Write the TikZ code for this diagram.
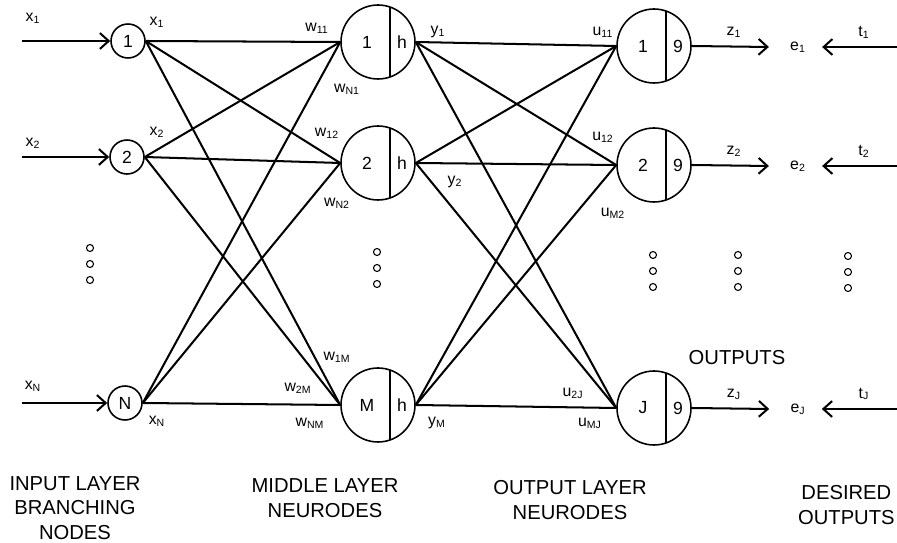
\documentclass[tikz,border=0pt]{standalone}
\usepackage{fontspec}
\setmainfont{Liberation Sans}
\usepackage{tikz}
\usetikzlibrary{arrows.meta,calc}
\tikzset{
  branch/.style={circle,draw,line width=0.9pt,minimum size=0.68cm,inner sep=0pt,font=\normalsize},
  neurode/.style={circle,draw,line width=0.9pt,minimum size=1.48cm,inner sep=0pt},
  link/.style={line width=1.15pt},
  sig/.style={line width=1.15pt,-{Straight Barb[length=5pt,width=9pt]}},
  lbl/.style={font=\small,inner sep=0pt},
  caption/.style={font=\fontsize{11.5}{14}\selectfont,align=center,inner sep=0pt},
  dotmark/.style={circle,draw,line width=0.6pt,minimum size=4pt,inner sep=0pt}
}
\newcommand{\wsub}[2]{#1\textsubscript{#2}}

\begin{document}
\begin{tikzpicture}[x=0.02cm,y=-0.02cm]
\useasboundingbox (0,0) rectangle (897,543);
% input layer branching nodes
\node[branch] (in1) at (128,41) {1};
\node[branch] (in2) at (127,157) {2};
\node[branch] (inN) at (125,403) {N};
\foreach \i/\y in {1/41,2/157,N/403}{
  \coordinate (src\i) at (22,\y);
  \draw[sig] (src\i) -- (in\i.west);
}
\node[lbl] (xin1) at (33,18) {\wsub{x}{1}};
\node[lbl] (xin2) at (33,143) {\wsub{x}{2}};
\node[lbl] (xinN) at (33,386) {\wsub{x}{N}};
\node[lbl] (xout1) at (157,22) {\wsub{x}{1}};
\node[lbl] (xout2) at (157,132) {\wsub{x}{2}};
\node[lbl] (xoutN) at (157,421) {\wsub{x}{N}};
% middle layer neurodes
\foreach \j/\y in {1/42,2/163,M/405}{
  \node[neurode] (mid\j) at (378,\y) {};
  \draw[line width=0.9pt] ($(mid\j.center)+(12,-35)$) -- ($(mid\j.center)+(12,35)$);
  \node (midid\j) at (367,\y) {\j};
  \node (midfn\j) at (402,\y) {h};
}
% output layer neurodes
\foreach \k/\y in {1/46,2/165,J/408}{
  \node[neurode] (out\k) at (654,\y) {};
  \draw[line width=0.9pt] ($(out\k.center)+(12,-35)$) -- ($(out\k.center)+(12,35)$);
  \node (outid\k) at (643,\y) {\k};
  \node (outfn\k) at (678,\y) {9};
}
% weights
\foreach \i in {1,2,N}
  \foreach \j in {1,2,M}
    \draw[link] (in\i.east) -- (mid\j.west);
\foreach \j in {1,2,M}
  \foreach \k in {1,2,J}
    \draw[link] (mid\j.east) -- (out\k.west);
\node[lbl] (w11) at (317,28) {\wsub{w}{11}};
\node[lbl] (wN1) at (347,89) {\wsub{w}{N1}};
\node[lbl] (w12) at (327,133) {\wsub{w}{12}};
\node[lbl] (wN2) at (337,203) {\wsub{w}{N2}};
\node[lbl] (w1M) at (337,357) {\wsub{w}{1M}};
\node[lbl] (w2M) at (298,388) {\wsub{w}{2M}};
\node[lbl] (wNM) at (310,423) {\wsub{w}{NM}};
\node[lbl] (y1) at (438,32) {\wsub{y}{1}};
\node[lbl] (y2) at (455,182) {\wsub{y}{2}};
\node[lbl] (yM) at (437,423) {\wsub{y}{M}};
\node[lbl] (u11) at (603,32) {\wsub{u}{11}};
\node[lbl] (u12) at (603,137) {\wsub{u}{12}};
\node[lbl] (uM2) at (613,213) {\wsub{u}{M2}};
\node[lbl] (u2J) at (573,393) {\wsub{u}{2J}};
\node[lbl] (uMJ) at (590,423) {\wsub{u}{MJ}};
% outputs and desired outputs
\foreach \k/\y in {1/47,2/166,J/409}{
  \node[lbl] (e\k) at (798,\y) {\wsub{e}{\k}};
  \coordinate (tgt\k) at (897,\y);
  \draw[sig] (out\k.east) -- ($(e\k.west)+(-21,0)$);
  \draw[sig] (tgt\k) -- ($(e\k.east)+(16,0)$);
  \node[lbl] (z\k) at (734,{\y-15}) {\wsub{z}{\k}};
  \node[lbl] (t\k) at (864,{\y-15}) {\wsub{t}{\k}};
}
% dots
\foreach \x/\y in {90/248,377/252,653/255,738/255,848/256}{
  \foreach \d in {0,1,2}
    \node[dotmark] (dot\x\d) at (\x,{\y+16*\d}) {};
}
% captions
\node[caption] (outlbl) at (737,358) {OUTPUTS};
\node[caption] (cin) at (75,508) {INPUT LAYER\\BRANCHING\\NODES};
\node[caption] (cmid) at (325,498) {MIDDLE LAYER\\NEURODES};
\node[caption] (cout) at (570,500) {OUTPUT LAYER\\NEURODES};
\node[caption,anchor=east] (cdes) at (895,505) {DESIRED\\OUTPUTS};
\end{tikzpicture}
\end{document}
